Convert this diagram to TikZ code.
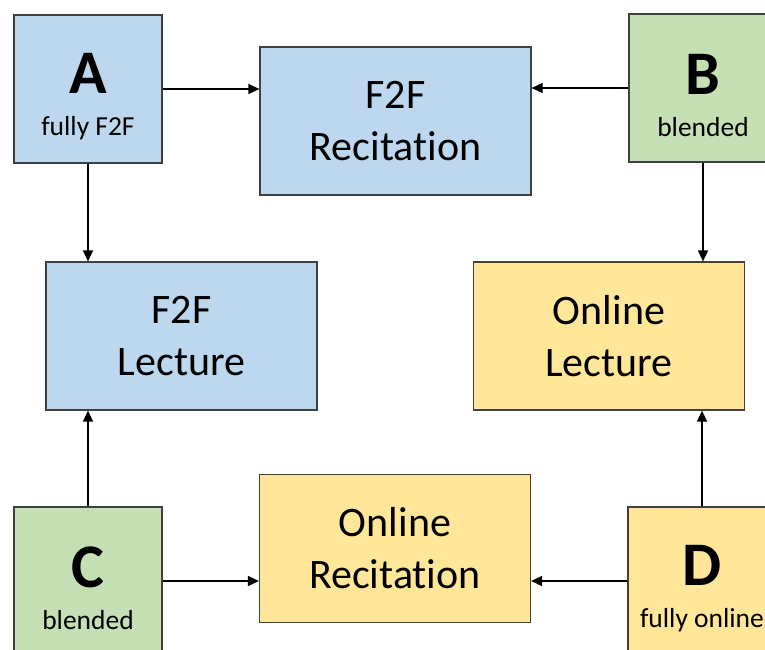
\documentclass[tikz,border=0pt]{standalone}
\usepackage{fontspec}
\setmainfont{Carlito}[Ligatures=NoCommon]
\usetikzlibrary{arrows.meta,positioning}
\definecolor{boxblue}{HTML}{BDD7EE}
\definecolor{boxgreen}{HTML}{C5E0B4}
\definecolor{boxyellow}{HTML}{FFE699}
\definecolor{boxline}{HTML}{404040}
\tikzstyle{box}=[draw=boxline,line width=1.2pt,inner sep=0pt,align=center]
\tikzstyle{modebox}=[box,minimum width=148pt,minimum height=148pt,font={\fontsize{27.5}{41}\selectfont}]
\tikzstyle{partbox}=[box,minimum width=271pt,minimum height=148pt,font={\fontsize{42}{52}\selectfont}]
\tikzstyle{flow}=[line width=1.6pt,-{Triangle[length=11pt,width=10pt]}]
\newcommand{\mode}[2]{\rule{0pt}{56pt}{\fontsize{62}{62}\selectfont\bfseries #1}\\[1pt]#2}

\begin{document}
\begin{tikzpicture}[x=1pt,y=-1pt]
            \useasboundingbox[fill=white] (0,0) rectangle (765,649);
            % modes
            \node[modebox, fill=boxblue] (A) at (88,89) {\mode{A}{fully F2F}};
            \node[modebox, fill=boxgreen] (B) at (703,88) {\mode{B}{blended}};
            \node[modebox, fill=boxgreen] (C) at (88,581) {\mode{C}{blended}};
            \node[modebox, fill=boxyellow] (D) at (702,581) {\mode{D}{fully online}};
            % parts
            \node[partbox, fill=boxblue] (f2f-rec) at (395.5,121) {F2F\\Recitation};
            \node[partbox, fill=boxblue] (f2f-lec) at (181.5,336) {F2F\\Lecture};
            \node[partbox, fill=boxyellow] (onl-lec) at (609,336) {Online\\Lecture};
            \node[partbox, fill=boxyellow] (onl-rec) at (395,548.5) {Online\\Recitation};
            %
            \draw[flow] (A) -- (f2f-rec.west |- A);
            \draw[flow] (B) -- (f2f-rec.east |- B);
            \draw[flow] (A) -- (A |- f2f-lec.north);
            \draw[flow] (B) -- (B |- onl-lec.north);
            \draw[flow] (C) -- (C |- f2f-lec.south);
            \draw[flow] (D) -- (D |- onl-lec.south);
            \draw[flow] (C) -- (onl-rec.west |- C);
            \draw[flow] (D) -- (onl-rec.east |- D);
        \end{tikzpicture}
\end{document}
